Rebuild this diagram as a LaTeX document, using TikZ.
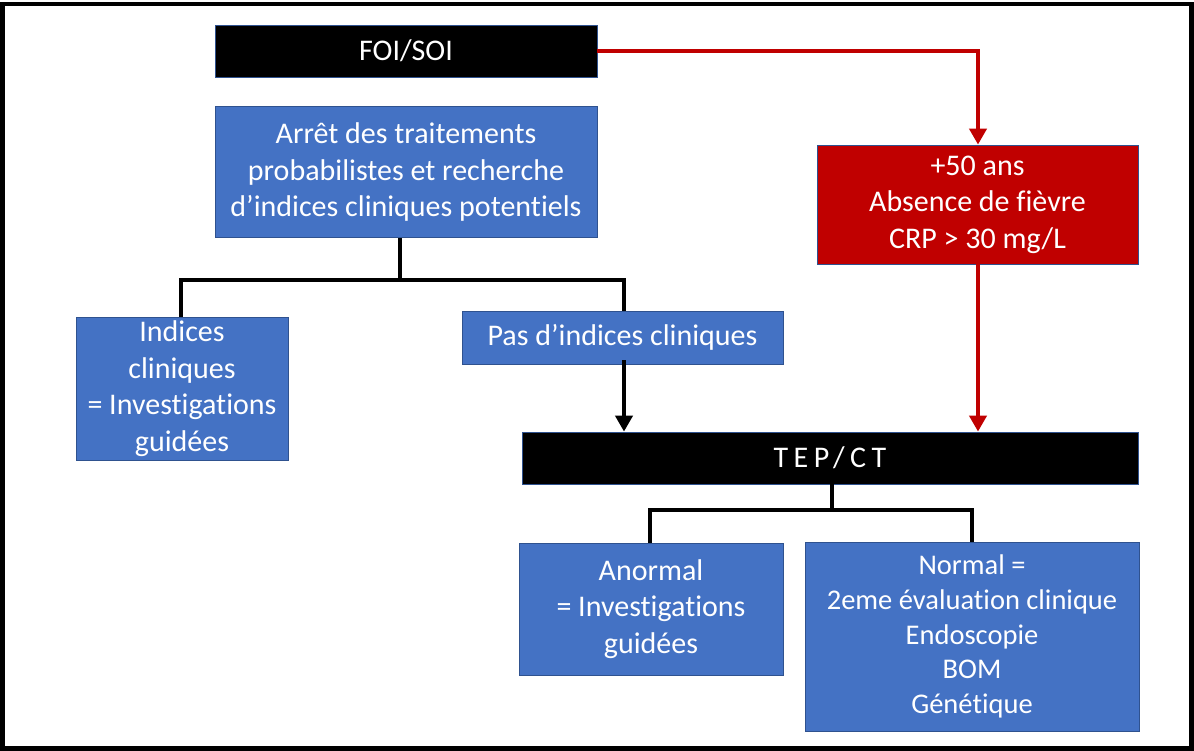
\documentclass[tikz,border=0pt]{standalone}
\usepackage{fontspec}
\setmainfont{Carlito}[Ligatures=NoCommon]
\usetikzlibrary{positioning,arrows.meta}

\definecolor{boxblue}{HTML}{4472C4}
\definecolor{boxred}{HTML}{C00000}
\definecolor{boxline}{HTML}{2F528F}

\begin{document}
\begin{tikzpicture}[x=1pt,y=-1pt,
  box/.style={draw=boxline,line width=0.8pt,rectangle,text=white,align=center,inner sep=0pt,
    font=\fontsize{30}{36.5}\selectfont},
  bluebox/.style={box,fill=boxblue},
  blackbox/.style={box,fill=black},
  redbox/.style={box,fill=boxred},
  link/.style={line width=4pt},
  redlink/.style={line width=4pt,draw=boxred},
  tip/.style={-{Triangle[width=17pt,length=16pt]}}]
\useasboundingbox (0,0) rectangle (1194,751);
\draw[line width=4.5pt] (2.5,4) rectangle (1191.5,748.5);

\node[blackbox,minimum width=382pt,minimum height=52pt] (box-foi) at (406,51) {FOI/SOI};
\node[bluebox,minimum width=382pt,minimum height=131pt,below=29pt of box-foi] (box-arret)
  {Arrêt des traitements\\probabilistes et recherche\\d’indices cliniques potentiels};
\node[redbox,minimum width=321pt,minimum height=119pt] (box-age) at (977.5,204.5)
  {+50 ans\\Absence de fièvre\\CRP > 30 mg/L};
\node[bluebox,minimum width=212pt,minimum height=143pt] (box-indices) at (182,388.5)
  {Indices\\cliniques\\= Investigations\\guidées};
\node[bluebox,minimum width=321pt,minimum height=53pt] (box-pas) at (622.5,337.5)
  {Pas d’indices cliniques};
\node[blackbox,minimum width=616pt,minimum height=52pt] (box-tep) at (830,458)
  {\addfontfeatures{LetterSpace=18}TEP/CT};
\node[bluebox,minimum width=264pt,minimum height=132pt] (box-anormal) at (651,609)
  {Anormal\\= Investigations\\guidées};
\node[bluebox,minimum width=334pt,minimum height=189pt,font=\fontsize{28.5}{34.6}\selectfont]
  (box-normal) at (972,636.5)
  {Normal =\\2eme évaluation clinique\\Endoscopie\\BOM\\Génétique};

\coordinate (split-arret) at (400,280);
\coordinate (split-tep) at (832,510);

\draw[link] (box-arret.south -| split-arret) -- (split-arret);
\draw[link] (box-indices.north -| 181,0) |- (split-arret) -| (box-pas.north -| 624,0);
\draw[link,tip] ([yshift=4pt]box-pas.south -| 624,0) -- (box-tep.north -| 624,0);
\draw[link] (box-tep.south -| split-tep) -- (split-tep);
\draw[link] (box-anormal.north -| 650,0) |- (split-tep) -| (box-normal.north -| 972,0);

\draw[redlink,tip] (box-foi.east) -| (box-age.north -| 978,0);
\draw[redlink,tip] (box-age.south -| 978,0) -- (box-tep.north -| 978,0);
\end{tikzpicture}
\end{document}
